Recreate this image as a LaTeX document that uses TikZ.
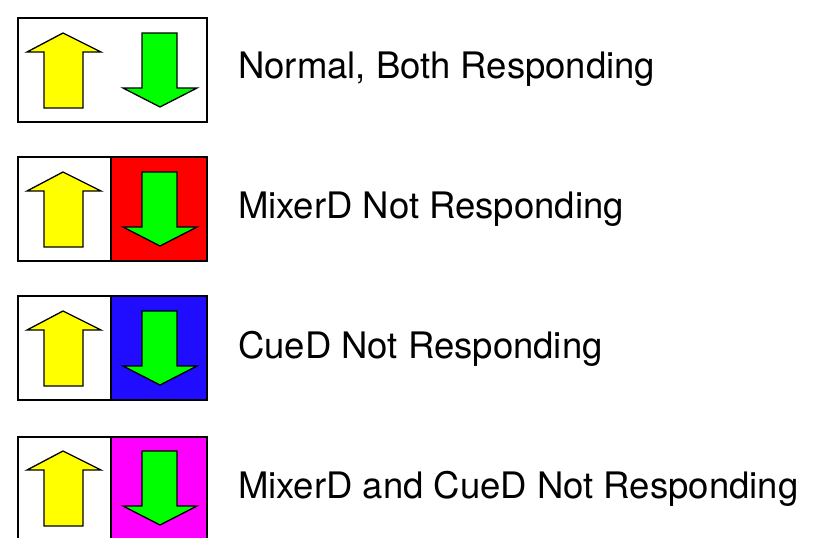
\documentclass[tikz,border=0pt]{standalone}
\usepackage{fontspec}
\setmainfont{TeX Gyre Heros}
\definecolor{ayel}{RGB}{255,255,0}
\definecolor{agrn}{RGB}{0,255,0}
\definecolor{ared}{RGB}{255,0,0}
\definecolor{ablu}{RGB}{32,12,255}
\definecolor{amag}{RGB}{255,0,255}
\tikzset{
  boxline/.style={draw=black,line width=1.6pt},
  arr/.style={draw=black,line width=1.3pt,line join=miter},
  label/.style={anchor=base west,inner sep=0pt,font=\fontsize{36.5}{40}\selectfont},
}
\newcommand{\uparr}[2]{% x0 y0 of box
  \path[arr,fill=ayel] (#1+45,#2+15) -- (#1+83,#2+34) -- (#1+65,#2+34) -- (#1+65,#2+90)
    -- (#1+26,#2+90) -- (#1+26,#2+34) -- (#1+9,#2+34) -- cycle;}
\newcommand{\dnarr}[2]{%
  \path[arr,fill=agrn] (#1+124,#2+15) -- (#1+159,#2+15) -- (#1+159,#2+70) -- (#1+179,#2+70)
    -- (#1+142,#2+89) -- (#1+105,#2+70) -- (#1+124,#2+70) -- cycle;}
\begin{document}
\begin{tikzpicture}[x=1pt,y=-1pt]
\useasboundingbox[fill=white] (0,0) rectangle (813,552);
% row 1
\path[boxline] (18,18) rectangle (207,122);
\uparr{18}{18}\dnarr{18}{18}
\node[label] (t1) at (238,78) {Normal, Both Responding};
% row 2
\fill[ared] (111,157) rectangle (207,261);
\path[boxline] (18,157) rectangle (207,261);
\draw[line width=1.2pt] (111,157) -- (111,261);
\uparr{18}{157}\dnarr{18}{157}
\node[label] (t2) at (238,218) {MixerD Not Responding};
% row 3
\fill[ablu] (111,296) rectangle (207,400);
\path[boxline] (18,296) rectangle (207,400);
\draw[line width=1.2pt] (111,296) -- (111,400);
\uparr{18}{296}\dnarr{18}{296}
\node[label] (t3) at (238,358) {CueD Not Responding};
% row 4 (cut at bottom)
\fill[amag] (111,437) rectangle (207,538);
\path[boxline] (18,538) -- (18,437) -- (207,437) -- (207,538);
\draw[line width=1.2pt] (111,437) -- (111,538);
\uparr{18}{436}\dnarr{18}{436}
\node[label] (t4) at (238,498) {MixerD and CueD Not Responding};
\end{tikzpicture}
\end{document}
